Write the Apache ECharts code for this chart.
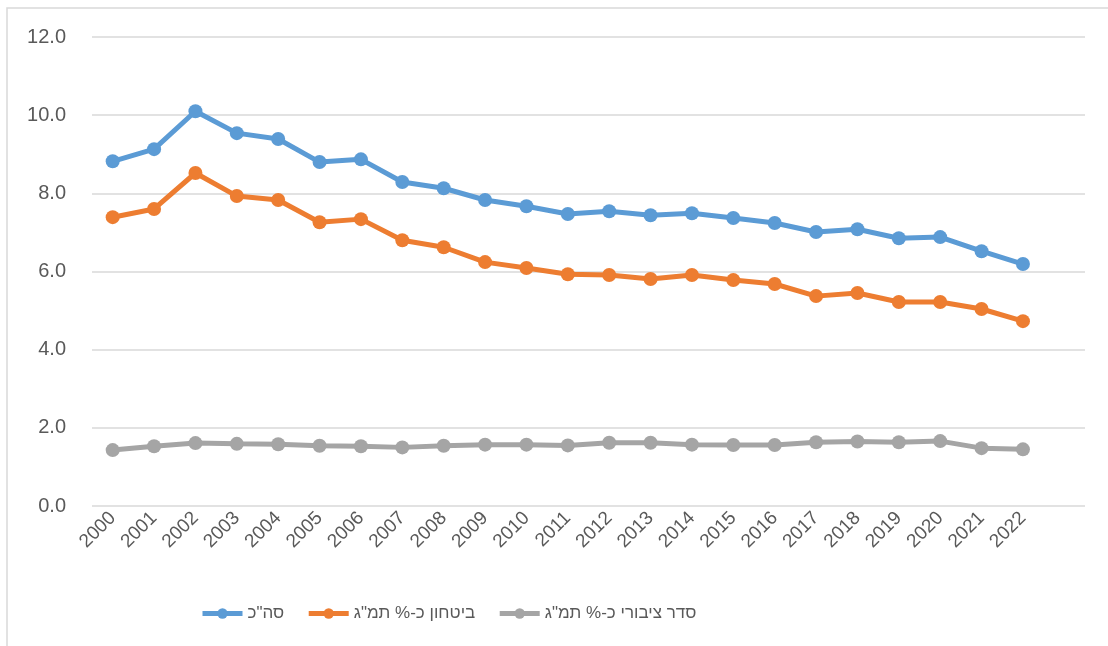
<!DOCTYPE html>
<html>
<head>
<meta charset="utf-8">
<script src="https://cdn.jsdelivr.net/npm/echarts@6/dist/echarts.min.js"></script>
<style>
  html, body { margin: 0; padding: 0; background: #fff; }
  #main { width: 1108px; height: 646px; }
</style>
</head>
<body>
<div id="main"></div>
<script>
// years, last slot left empty like the excel chart
const years = ["2000","2001","2002","2003","2004","2005","2006","2007","2008","2009","2010","2011",
  "2012","2013","2014","2015","2016","2017","2018","2019","2020","2021","2022",""];

const total = [8.82,9.13,10.10,9.54,9.39,8.80,8.87,8.29,8.13,7.83,7.67,7.47,
  7.54,7.44,7.49,7.37,7.24,7.01,7.08,6.85,6.88,6.52,6.19];
const defense = [7.39,7.60,8.52,7.93,7.83,7.26,7.34,6.80,6.62,6.24,6.09,5.93,
  5.91,5.81,5.91,5.78,5.68,5.37,5.45,5.22,5.22,5.04,4.73];
const publicOrder = [1.43,1.53,1.61,1.59,1.58,1.54,1.53,1.50,1.54,1.57,1.57,1.55,
  1.62,1.62,1.57,1.56,1.56,1.63,1.65,1.63,1.66,1.48,1.45];

const names = ['סה"כ', 'ביטחון כ-% תמ"ג', 'סדר ציבורי כ-% תמ"ג'];
const colors = ["#5B9BD5", "#ED7D31", "#A5A5A5"];

const font = "'Liberation Sans', 'DejaVu Sans', sans-serif";

function makeSeries(name, data, color) {
  return {
    name: name,
    type: "line",
    data: data,
    symbol: "circle",
    symbolSize: 14,
    lineStyle: { width: 5, color: color },
    itemStyle: { color: color },
    emphasis: { disabled: true },
  };
}

const option = {
  animation: false,
  color: colors,
  textStyle: { fontFamily: font },
  graphic: [
    {
      // outer chart border (only top and left visible)
      type: "rect",
      shape: { x: 7, y: 8, width: 1200, height: 700 },
      style: { fill: "none", stroke: "#D9D9D9", lineWidth: 1.5 },
      silent: true,
    },
  ],
  legend: {
    top: 600,
    left: 195,
    itemWidth: 40,
    itemHeight: 13,
    itemGap: 22,
    lineStyle: { width: 5 },
    textStyle: { fontSize: 17, color: "#595959", fontFamily: font },
    data: names,
  },
  grid: {
    left: 92,
    right: 23,
    top: 37,
    bottom: 140,
  },
  xAxis: {
    type: "category",
    data: years,
    boundaryGap: true,
    axisLine: { show: false },
    axisTick: { show: false },
    axisLabel: {
      rotate: 45,
      interval: 0,
      margin: 9,
      fontSize: 19,
      color: "#595959",
    },
  },
  yAxis: {
    type: "value",
    min: 0,
    max: 12,
    interval: 2,
    axisLine: { show: false },
    axisTick: { show: false },
    axisLabel: {
      margin: 26,
      fontSize: 20,
      color: "#595959",
      formatter: v => v.toFixed(1),
    },
    splitLine: { lineStyle: { color: "#D9D9D9", width: 1.5 } },
  },
  series: [
    makeSeries(names[0], total, colors[0]),
    makeSeries(names[1], defense, colors[1]),
    makeSeries(names[2], publicOrder, colors[2]),
  ],
};

const myChart = echarts.init(document.getElementById("main"));
myChart.setOption(option);
window.addEventListener("resize", () => {
  myChart.resize();
});
</script>
</body>
</html>
